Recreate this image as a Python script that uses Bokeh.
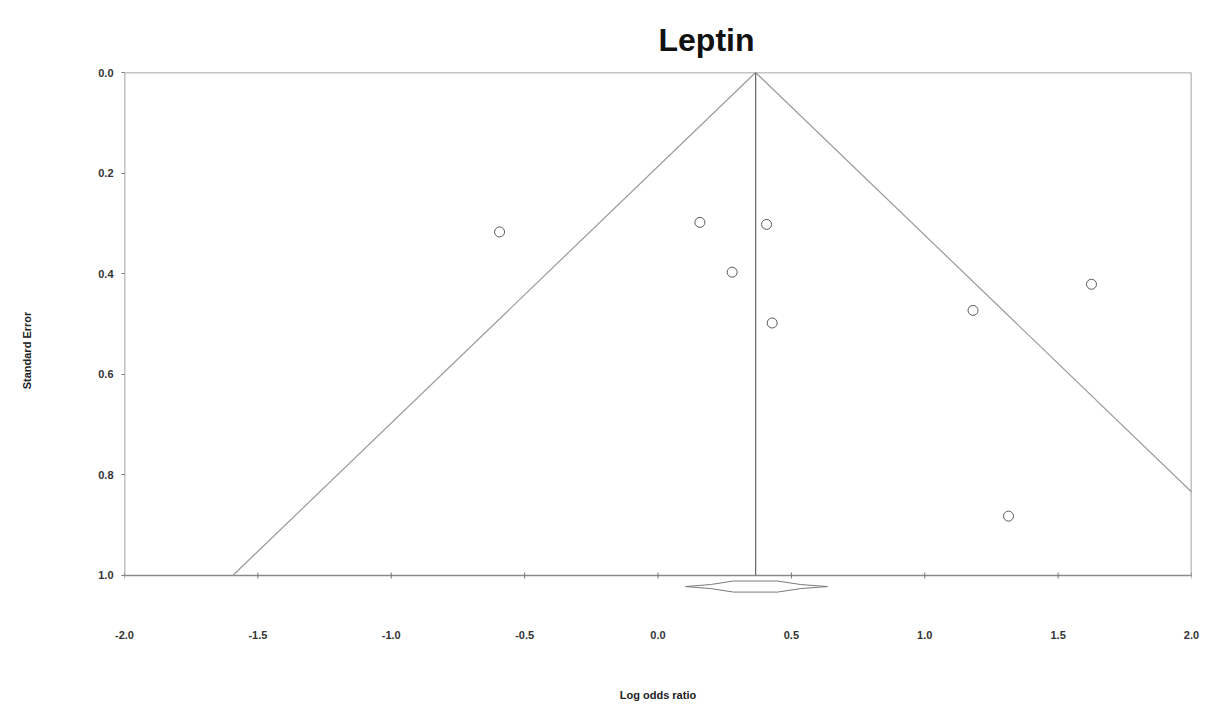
from bokeh.plotting import figure
from bokeh.models import Range1d, FixedTicker
from bokeh.embed import file_html
from bokeh.resources import INLINE

# ---- data ----
title_text = "Leptin"
log_odds_ratio = [-0.594, 0.157, 0.407, 0.278, 0.428, 1.625, 1.181, 1.314]
standard_error = [0.317, 0.298, 0.302, 0.397, 0.498, 0.421, 0.473, 0.882]
pooled_effect = 0.366
z_crit = 1.96
se_max = 1.0
x_ticks = [-2.0, -1.5, -1.0, -0.5, 0.0, 0.5, 1.0, 1.5, 2.0]
x_tick_labels = ["-2.0", "-1.5", "-1.0", "-0.5", "0.0", "0.5", "1.0", "1.5", "2.0"]
y_ticks = [0.0, 0.2, 0.4, 0.6, 0.8, 1.0]
y_tick_labels = ["0.0", "0.2", "0.4", "0.6", "0.8", "1.0"]
# combined-effect diamond (below the funnel)
diamond_x = [0.103, 0.197, 0.283, 0.448, 0.535, 0.636, 0.535, 0.448, 0.283, 0.197]
diamond_y = [1.022, 1.018, 1.011, 1.011, 1.018, 1.022, 1.026, 1.033, 1.033, 1.026]

X_MIN, X_MAX = -2.0, 2.0
Y_LIMIT = 1.1054  # room below the frame for the diamond

FONT = "Liberation Sans"
GREY = "#8a8a8a"

p = figure(width=1210, height=706,
           x_range=Range1d(X_MIN, X_MAX), y_range=Range1d(Y_LIMIT, 0.0),
           output_backend="svg", toolbar_location=None,
           min_border_left=124, min_border_right=19,
           min_border_top=72, min_border_bottom=78)
p.background_fill_color = "white"
p.border_fill_color = "white"
p.outline_line_color = None
p.grid.visible = False

# title
p.title.text = title_text
p.title.text_font = FONT
p.title.text_font_size = "32px"
p.title.text_font_style = "bold"
p.title.text_color = "#111111"
p.title.align = "left"
p.title.offset = 534
p.title.standoff = 30

# frame box
p.line(x=[X_MIN, X_MIN, X_MAX, X_MAX, X_MIN], y=[se_max, 0.0, 0.0, se_max, se_max],
       line_color=GREY, line_width=1.6)

# x tick marks on frame bottom
tick_half = 0.006
p.segment(x0=x_ticks, y0=[se_max - tick_half] * len(x_ticks),
          x1=x_ticks, y1=[se_max + tick_half] * len(x_ticks),
          line_color="#777777", line_width=1)

# funnel lines
p.line(x=[pooled_effect - z_crit * se_max, pooled_effect, pooled_effect + z_crit * se_max],
       y=[se_max, 0.0, se_max], line_color="#9a9a9a", line_width=1.2)
# pooled effect vertical line
p.segment(x0=[pooled_effect], y0=[0.0], x1=[pooled_effect], y1=[se_max],
          line_color="#6e6e6e", line_width=1.3)

# studies
p.scatter(x=log_odds_ratio, y=standard_error, marker="circle", size=10,
          fill_color="white", line_color="#5a5a5a", line_width=1)

# diamond
p.patch(x=diamond_x, y=diamond_y, fill_color="white", line_color="#7a7a7a", line_width=1)

# axes
xa = p.xaxis[0]
xa.ticker = FixedTicker(ticks=x_ticks)
xa.major_label_overrides = {t: s for t, s in zip(x_ticks, x_tick_labels)}
xa.axis_line_color = None
xa.major_tick_line_color = None
xa.minor_tick_line_color = None
xa.major_tick_out = 0
xa.major_tick_in = 0
xa.major_label_standoff = 2
xa.major_label_text_font = FONT
xa.major_label_text_font_size = "11px"
xa.major_label_text_font_style = "bold"
xa.major_label_text_color = "#333333"
xa.axis_label = "Log odds ratio"
xa.axis_label_text_font = FONT
xa.axis_label_text_font_size = "11px"
xa.axis_label_text_font_style = "bold"
xa.axis_label_text_color = "#222222"
xa.axis_label_standoff = 47

ya = p.yaxis[0]
ya.ticker = FixedTicker(ticks=y_ticks)
ya.major_label_overrides = {t: s for t, s in zip(y_ticks, y_tick_labels)}
ya.axis_line_color = None
ya.major_tick_line_color = "#777777"
ya.minor_tick_line_color = None
ya.major_tick_out = 3
ya.major_tick_in = 0
ya.major_label_standoff = 8
ya.major_label_text_font = FONT
ya.major_label_text_font_size = "11px"
ya.major_label_text_font_style = "bold"
ya.major_label_text_color = "#333333"
ya.axis_label = "Standard Error"
ya.axis_label_text_font = FONT
ya.axis_label_text_font_size = "11px"
ya.axis_label_text_font_style = "bold"
ya.axis_label_text_color = "#222222"
ya.axis_label_standoff = 62

open("out.html", "w").write(file_html(p, INLINE))
